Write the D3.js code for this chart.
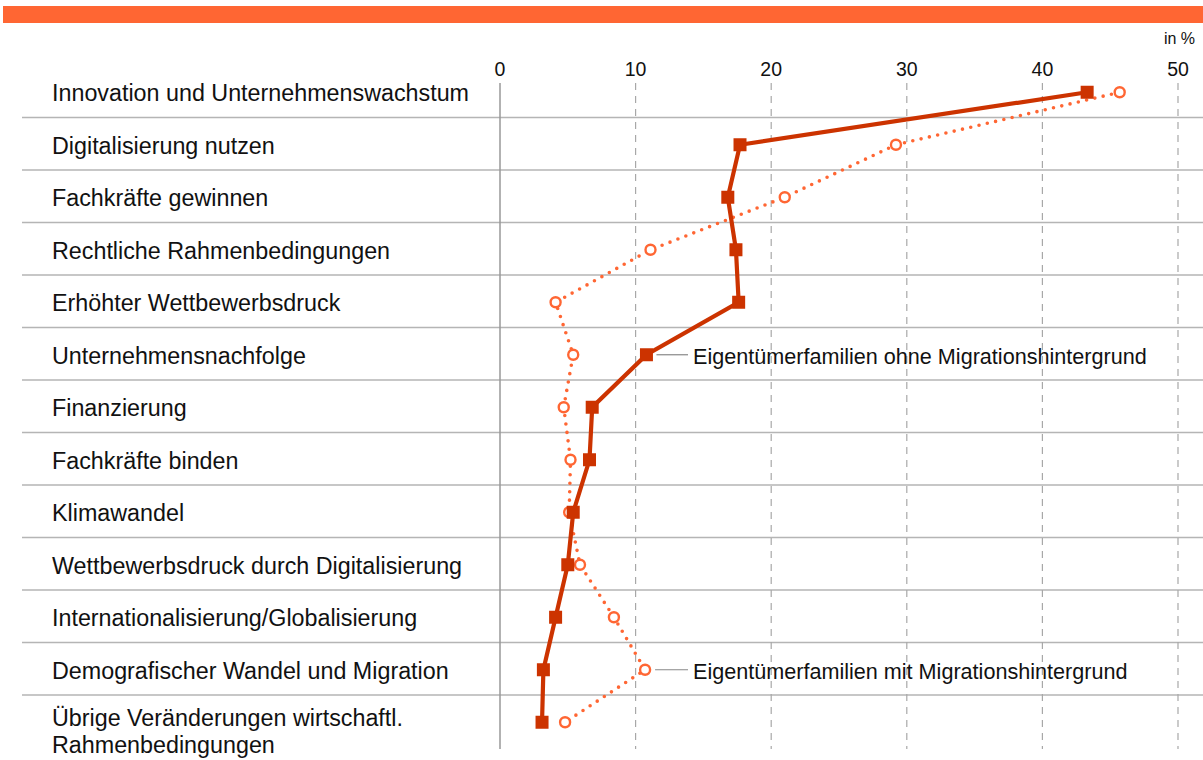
<!DOCTYPE html>
<html>
<head>
<meta charset="utf-8">
<script src="https://cdn.jsdelivr.net/npm/d3@7"></script>
<style>
  body { margin: 0; background: #fff; }
  .cat { font-family: "Liberation Sans", Arial, sans-serif; font-size: 23.3px; fill: #111; }
  .tick { font-family: "Liberation Sans", Arial, sans-serif; font-size: 19.5px; fill: #111; }
  .note { font-family: "Liberation Sans", Arial, sans-serif; font-size: 21.6px; fill: #111; }
</style>
</head>
<body>
<div id="chart"></div>
<script>
var categories = ["Innovation und Unternehmenswachstum", "Digitalisierung nutzen", "Fachkräfte gewinnen",
  "Rechtliche Rahmenbedingungen", "Erhöhter Wettbewerbsdruck", "Unternehmensnachfolge", "Finanzierung",
  "Fachkräfte binden", "Klimawandel", "Wettbewerbsdruck durch Digitalisierung",
  "Internationalisierung/Globalisierung", "Demografischer Wandel und Migration",
  "Übrige Veränderungen wirtschaftl.|Rahmenbedingungen"];
var ohne = [43.3, 17.7, 16.8, 17.4, 17.6, 10.8, 6.8, 6.6, 5.4, 5.0, 4.1, 3.2, 3.1];
var mit  = [45.7, 29.2, 21.0, 11.1, 4.1, 5.4, 4.7, 5.2, 5.1, 5.9, 8.4, 10.7, 4.8];
var xTicks = [0, 10, 20, 30, 40, 50];
var seriesNames = ["Eigentümerfamilien ohne Migrationshintergrund", "Eigentümerfamilien mit Migrationshintergrund"];

var width = 1203, height = 760,
    darkRed = "#cc3300", orange = "#ff6633";

var svg = d3.select("#chart").append("svg")
    .attr("width", width)
    .attr("height", height);

// top bar
svg.append("rect").attr("x", 3).attr("y", 6).attr("width", width - 3).attr("height", 17)
  .style("fill", orange);

var x = d3.scaleLinear().domain([0, 50]).range([500, 1178]);
var y = d3.scaleBand().domain(categories).range([65, 747.5]);
var mid = function (d) { return y(d) + y.bandwidth() / 2 + 1; };

// row separators
svg.selectAll(".sep")
  .data(categories.slice(1))
  .enter().append("line")
  .attr("x1", 22).attr("x2", width)
  .attr("y1", function (d) { return y(d); })
  .attr("y2", function (d) { return y(d); })
  .style("stroke", "#b5b5b5").style("stroke-width", 1.5);

// dashed gridlines
svg.selectAll(".grid")
  .data(xTicks.slice(1))
  .enter().append("line")
  .attr("x1", x).attr("x2", x)
  .attr("y1", 83).attr("y2", 749)
  .style("stroke", "#a8a8a8").style("stroke-width", 1.2)
  .style("stroke-dasharray", "7,6");

// y axis line
svg.append("line").attr("x1", x(0)).attr("x2", x(0)).attr("y1", 83).attr("y2", 749)
  .style("stroke", "#999").style("stroke-width", 1.5);

// tick labels
svg.selectAll(".tick")
  .data(xTicks)
  .enter().append("text")
  .attr("class", "tick")
  .attr("x", x).attr("y", 76)
  .style("text-anchor", "middle")
  .text(function (d) { return d; });

svg.append("text").attr("class", "tick")
  .attr("x", 1195).attr("y", 44)
  .style("text-anchor", "end").style("font-size", "16px")
  .text("in %");

// category labels
var cat = svg.selectAll(".cat")
  .data(categories)
  .enter().append("text")
  .attr("class", "cat")
  .attr("x", 52)
  .attr("y", function (d) { return mid(d) + 9; });
cat.each(function (d) {
  var parts = d.split("|"), t = d3.select(this);
  if (parts.length === 1) { t.text(d); return; }
  t.attr("y", mid(d) + 4);
  parts.forEach(function (p, i) {
    t.append("tspan").attr("x", 52).attr("dy", i === 0 ? 0 : 27).text(p);
  });
});

// mit series: dotted line, open circles
var line = d3.line()
  .x(function (d) { return x(d); })
  .y(function (d, i) { return mid(categories[i]); });
svg.append("path").datum(mit)
  .attr("d", line)
  .style("fill", "none").style("stroke", orange)
  .style("stroke-width", 3.6).style("stroke-linecap", "round")
  .style("stroke-dasharray", "0,8.5");
svg.selectAll(".mitPt")
  .data(mit)
  .enter().append("circle")
  .attr("cx", function (d) { return x(d); })
  .attr("cy", function (d, i) { return mid(categories[i]); })
  .attr("r", 5)
  .style("fill", "#fff").style("stroke", orange).style("stroke-width", 2.4);

// ohne series: solid line, squares
svg.append("path").datum(ohne)
  .attr("d", line)
  .style("fill", "none").style("stroke", darkRed).style("stroke-width", 4.2);
svg.selectAll(".ohnePt")
  .data(ohne)
  .enter().append("rect")
  .attr("x", function (d) { return x(d) - 6.5; })
  .attr("y", function (d, i) { return mid(categories[i]) - 6.5; })
  .attr("width", 13).attr("height", 13)
  .style("fill", darkRed);

// annotations
var notes = [{ s: 0, i: 5, v: ohne[5] }, { s: 1, i: 11, v: mit[11] }];
notes.forEach(function (n) {
  var yy = mid(categories[n.i]);
  svg.append("line")
    .attr("x1", x(n.v) + 10).attr("x2", 688)
    .attr("y1", yy).attr("y2", yy)
    .style("stroke", "#888").style("stroke-width", 1.2);
  svg.append("text").attr("class", "note")
    .attr("x", 693).attr("y", yy + 9)
    .text(seriesNames[n.s]);
});
</script>
</body>
</html>
